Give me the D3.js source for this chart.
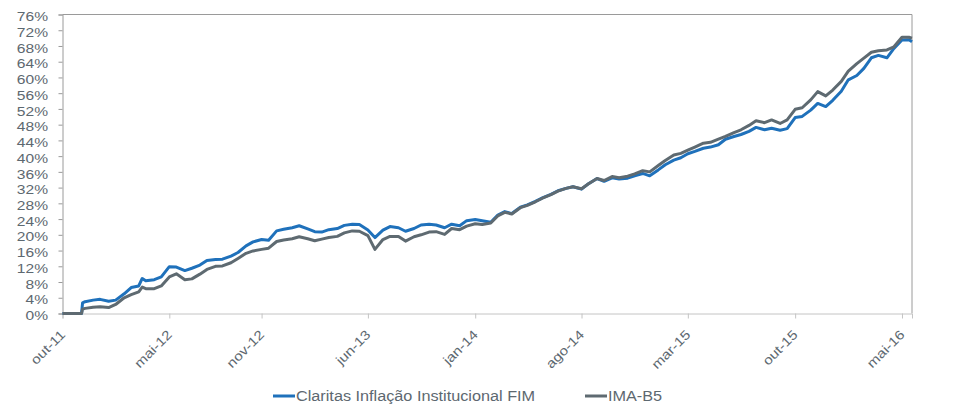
<!DOCTYPE html>
<meta charset="utf-8">
<script src="https://cdn.jsdelivr.net/npm/d3@7"></script>
<style>
  body { margin: 0; background: #fff; font-family: "Liberation Sans", Arial, sans-serif; }
  .axis text { fill: #5d6870; font-size: 13px; font-family: "Liberation Sans", Arial, sans-serif; }
  .legend text { fill: #5d6870; font-size: 14px; }
</style>
<body>
<div id="viz"></div>
<script>
// semi-monthly readings (% accumulated)
var dates = [
  "2011-10-01","2011-10-15","2011-11-01","2011-11-08","2011-11-10","2011-11-15",
  "2011-12-01","2011-12-15","2012-01-01","2012-01-15","2012-02-01","2012-02-15",
  "2012-03-01","2012-03-08","2012-03-15","2012-04-01","2012-04-15","2012-05-01","2012-05-15",
  "2012-06-01","2012-06-15","2012-07-01","2012-07-15","2012-08-01","2012-08-15",
  "2012-09-01","2012-09-15","2012-10-01","2012-10-15","2012-11-01","2012-11-15",
  "2012-12-01","2012-12-15","2013-01-01","2013-01-15","2013-02-01","2013-02-15",
  "2013-03-01","2013-03-15","2013-04-01","2013-04-15","2013-05-01","2013-05-15",
  "2013-06-01","2013-06-15","2013-07-01","2013-07-15","2013-08-01","2013-08-15",
  "2013-09-01","2013-09-15","2013-10-01","2013-10-15","2013-11-01","2013-11-15",
  "2013-12-01","2013-12-15","2014-01-01","2014-01-15","2014-02-01","2014-02-15",
  "2014-03-01","2014-03-15","2014-04-01","2014-04-15","2014-05-01","2014-05-15",
  "2014-06-01","2014-06-15","2014-07-01","2014-07-15","2014-08-01","2014-08-15",
  "2014-09-01","2014-09-15","2014-10-01","2014-10-15","2014-11-01","2014-11-15",
  "2014-12-01","2014-12-15","2015-01-01","2015-01-15","2015-02-01","2015-02-15",
  "2015-03-01","2015-03-15","2015-04-01","2015-04-15","2015-05-01","2015-05-15",
  "2015-06-01","2015-06-15","2015-07-01","2015-07-15","2015-08-01","2015-08-15",
  "2015-09-01","2015-09-15","2015-10-01","2015-10-15","2015-11-01","2015-11-15",
  "2015-12-01","2015-12-15","2016-01-01","2016-01-15","2016-02-01","2016-02-15",
  "2016-03-01","2016-03-15","2016-04-01","2016-04-15","2016-05-01","2016-05-15","2016-05-21"
];

var claritas = [
  0, 0, 0, 0, 2.7, 3.0,
  3.4, 3.6, 3.1, 3.4, 5.0, 6.6,
  7.0, 8.9, 8.3, 8.6, 9.3, 11.9, 11.8,
  10.9, 11.5, 12.3, 13.5, 13.7, 13.8,
  14.6, 15.5, 17.2, 18.2, 18.8, 18.6,
  21.0, 21.4, 21.8, 22.3, 21.5, 20.8,
  20.7, 21.3, 21.6, 22.4, 22.7, 22.6,
  21.2, 19.3, 21.2, 22.1, 21.8, 20.9,
  21.6, 22.5, 22.7, 22.5, 21.8, 22.7,
  22.3, 23.6, 23.9, 23.6, 23.2, 25.0,
  25.9, 25.4, 27.0, 27.6, 28.5, 29.4,
  30.3, 31.2, 31.8, 32.2, 31.6, 33.0,
  34.3, 33.6, 34.5, 34.2, 34.4, 35.0,
  35.6, 35.0, 36.5, 37.8, 39.0, 39.6,
  40.6, 41.2, 42.0, 42.3, 42.9, 44.3,
  45.0, 45.5, 46.3, 47.3, 46.7, 47.1,
  46.6, 47.0, 49.8, 50.1, 51.7, 53.4,
  52.6, 54.2, 56.5, 59.4, 60.5, 62.3,
  65.0, 65.6, 65.0, 67.4, 69.5, 69.6, 69.1
];

var imab5 = [
  0, 0, 0, 0, 1.1, 1.3,
  1.6, 1.7, 1.5, 2.3, 4.0, 4.8,
  5.5, 6.7, 6.3, 6.3, 7.0, 9.3, 10.1,
  8.6, 8.8, 10.0, 11.2, 12.0, 12.1,
  12.9, 14.0, 15.3, 15.9, 16.3, 16.6,
  18.3, 18.7, 19.0, 19.5, 19.0, 18.5,
  18.9, 19.3, 19.6, 20.5, 21.0, 20.9,
  19.8, 16.3, 18.8, 19.6, 19.6, 18.4,
  19.5, 20.0, 20.7, 20.8, 20.1, 21.6,
  21.3, 22.2, 22.8, 22.6, 23.0, 24.8,
  25.7, 25.3, 26.9, 27.5, 28.4, 29.3,
  30.2, 31.1, 31.8, 32.2, 31.7, 33.0,
  34.3, 33.8, 34.8, 34.5, 34.9, 35.5,
  36.3, 36.0, 37.6, 38.9, 40.3, 40.7,
  41.5, 42.3, 43.3, 43.5, 44.3, 45.0,
  46.0, 46.7, 47.8, 49.0, 48.5, 49.2,
  48.3, 49.2, 51.9, 52.3, 54.3, 56.4,
  55.3, 56.8, 59.0, 61.6, 63.5, 64.9,
  66.4, 66.8, 67.0, 67.8, 70.2, 70.2, 70.0
];

var tickDates = ["2011-10-01","2012-05-01","2012-11-01","2013-06-01","2014-01-01",
                 "2014-08-01","2015-03-01","2015-10-01","2016-05-01"];
var tickLabels = ["out-11","mai-12","nov-12","jun-13","jan-14","ago-14","mar-15","out-15","mai-16"];
var yTicks = d3.range(0, 77, 4);

var seriesNames = ["Claritas Inflação Institucional FIM", "IMA-B5"];
var colors = ["#1f71bb", "#5e6a71"];

var width = 974, height = 405;
var margin = {left: 62.5, right: 62, top: 14.5, bottom: 91.5};

var parse = d3.timeParse("%Y-%m-%d");
var x = d3.scaleTime()
  .domain([parse(dates[0]), parse(dates[dates.length - 1])])
  .range([margin.left, width - margin.right]);
var y = d3.scaleLinear()
  .domain([0, 76])
  .range([height - margin.bottom, margin.top]);

var svg = d3.select("#viz").append("svg")
  .attr("width", width)
  .attr("height", height);

// frame top + right
svg.append("path")
  .attr("d", "M" + margin.left + "," + margin.top + "H" + (width - margin.right) + "V" + (height - margin.bottom))
  .attr("fill", "none")
  .attr("stroke", "#9a9a9a")
  .attr("stroke-width", 1);

var yAxis = svg.append("g")
  .attr("class", "axis")
  .attr("transform", "translate(" + margin.left + ",0)")
  .call(d3.axisLeft(y).tickValues(yTicks).tickFormat(function(d) { return d + "%"; }).tickSize(4).tickPadding(10));
yAxis.select(".domain").attr("stroke", "#9a9a9a");
yAxis.selectAll(".tick line").attr("stroke", "#9a9a9a");
// the original text is a bit wider than Arial
yAxis.selectAll(".tick text")
  .attr("x", 0)
  .attr("transform", "translate(-14.5,2) scale(1.2,1)");

var xAxis = svg.append("g")
  .attr("class", "axis")
  .attr("transform", "translate(0," + (height - margin.bottom) + ")")
  .call(d3.axisBottom(x).tickValues(tickDates.map(parse))
    .tickFormat(function(d, i) { return tickLabels[i]; }).tickSize(5));
xAxis.select(".domain").attr("stroke", "#c4c4c4");
xAxis.selectAll(".tick line").attr("stroke", "#c4c4c4");
xAxis.selectAll(".tick text")
  .attr("text-anchor", "end")
  .attr("dy", null)
  .attr("y", 0)
  .attr("transform", "translate(3,22) rotate(-45) scale(1.18,1)");

var line = d3.line()
  .x(function(d) { return x(d[0]); })
  .y(function(d) { return y(d[1]); });

[claritas, imab5].forEach(function(vals, k) {
  var pts = dates.map(function(d, i) { return [parse(d), vals[i]]; });
  svg.append("path")
    .datum(pts)
    .attr("fill", "none")
    .attr("stroke", colors[k])
    .attr("stroke-width", 3)
    .attr("stroke-linejoin", "round")
    .attr("d", line);
});

var legX = [273, 585];
var legend = svg.append("g").attr("class", "legend");
seriesNames.forEach(function(name, k) {
  legend.append("line")
    .attr("x1", legX[k]).attr("x2", legX[k] + 22)
    .attr("y1", 396).attr("y2", 396)
    .attr("stroke", colors[k]).attr("stroke-width", 3);
  legend.append("text")
    .attr("transform", "translate(" + (legX[k] + 23) + ",401) scale(1.16,1)")
    .text(name);
});
</script>
</body>
